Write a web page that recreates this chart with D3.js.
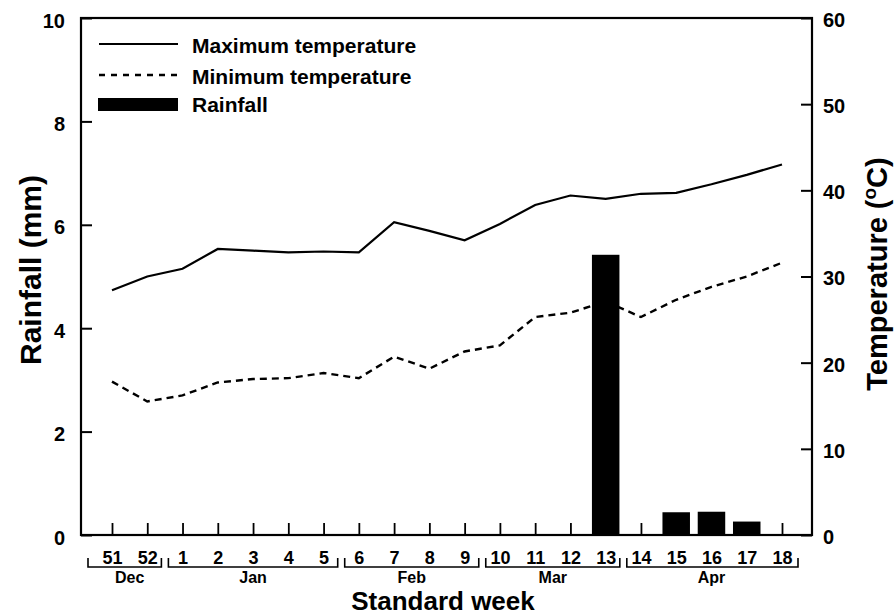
<!DOCTYPE html>
<html>
<head>
<meta charset="utf-8">
<script src="https://cdnjs.cloudflare.com/ajax/libs/d3/7.8.5/d3.min.js"></script>
<style>
  body { margin: 0; background: #fff; }
  svg text { font-family: "Liberation Sans", Arial, Helvetica, sans-serif; font-weight: bold; fill: #000; }
</style>
</head>
<body>
<div id="chart"></div>
<script>
// standard weeks, Dec 51 .. Apr 18
var weeks = ["51", "52", "1", "2", "3", "4", "5", "6", "7", "8", "9", "10", "11", "12", "13", "14", "15", "16", "17", "18"];
var maxTemp = [28.4, 30.0, 30.9, 33.2, 33.0, 32.8, 32.9, 32.8, 36.3, 35.3, 34.2, 36.1, 38.3, 39.4, 39.0, 39.6, 39.7, 40.7, 41.8, 43.0];
var minTemp = [17.8, 15.5, 16.2, 17.7, 18.1, 18.2, 18.8, 18.2, 20.7, 19.3, 21.3, 22.0, 25.3, 25.8, 27.1, 25.3, 27.3, 28.8, 30.0, 31.6];
var rainfall = [0, 0, 0, 0, 0, 0, 0, 0, 0, 0, 0, 0, 0, 0, 5.42, 0, 0.44, 0.45, 0.26, 0];
var months = [
    { name: "Dec", from: "51", to: "52" },
    { name: "Jan", from: "1", to: "5" },
    { name: "Feb", from: "6", to: "9" },
    { name: "Mar", from: "10", to: "13" },
    { name: "Apr", from: "14", to: "18" }
];
var rainTicks = [0, 2, 4, 6, 8, 10];
var tempTicks = [0, 10, 20, 30, 40, 50, 60];

var width = 894, height = 615;
var plotL = 81, plotR = 812, plotT = 18, plotB = 535;

var svg = d3.select("#chart").append("svg")
    .attr("width", width)
    .attr("height", height);

var x = d3.scalePoint()
    .domain(weeks)
    .range([112, 782]);
var step = x.step();

var yRain = d3.scaleLinear().domain([0, 10]).range([plotB, plotT]);
var yTemp = d3.scaleLinear().domain([0, 60]).range([plotB, plotT]);

// rainfall bars
var barW = 27.5;
svg.selectAll(".bar")
    .data(weeks.map(function (w, i) { return { week: w, value: rainfall[i] }; })
        .filter(function (d) { return d.value > 0; }))
    .enter()
    .append("rect")
    .attr("class", "bar")
    .attr("x", function (d) { return x(d.week) - barW / 2; })
    .attr("y", function (d) { return yRain(d.value); })
    .attr("width", barW)
    .attr("height", function (d) { return yRain(0) - yRain(d.value); })
    .attr("fill", "#000");

// temperature lines
var line = function (values) {
    return d3.line()
        .x(function (d, i) { return x(weeks[i]); })
        .y(function (d) { return yTemp(d); })(values);
};

svg.append("path")
    .attr("d", line(maxTemp))
    .attr("fill", "none")
    .attr("stroke", "#000")
    .attr("stroke-width", 2.2);

svg.append("path")
    .attr("d", line(minTemp))
    .attr("fill", "none")
    .attr("stroke", "#000")
    .attr("stroke-width", 2.4)
    .attr("stroke-dasharray", "7,5");

// frame
svg.append("rect")
    .attr("x", plotL)
    .attr("y", plotT)
    .attr("width", plotR - plotL)
    .attr("height", plotB - plotT)
    .attr("fill", "none")
    .attr("stroke", "#000")
    .attr("stroke-width", 2.2);

// left axis (ticks point inward)
var leftAxis = svg.append("g")
    .attr("transform", "translate(" + plotL + ",0)")
    .call(d3.axisLeft(yRain).tickValues(rainTicks).tickSize(-11).tickPadding(16).tickFormat(d3.format("d")));
leftAxis.select(".domain").remove();
leftAxis.selectAll("line").attr("stroke-width", 2);
leftAxis.selectAll("text").attr("font-size", 20).attr("dy", "0.45em")
    .style("font-family", "Liberation Sans, Arial, sans-serif").style("font-weight", "bold");

// right axis
var rightAxis = svg.append("g")
    .attr("transform", "translate(" + plotR + ",0)")
    .call(d3.axisRight(yTemp).tickValues(tempTicks).tickSize(-11).tickPadding(11).tickFormat(d3.format("d")));
rightAxis.select(".domain").remove();
rightAxis.selectAll("line").attr("stroke-width", 2);
rightAxis.selectAll("text").attr("font-size", 20).attr("dy", "0.42em")
    .style("font-family", "Liberation Sans, Arial, sans-serif").style("font-weight", "bold");

// bottom axis: ticks up into the plot, week numbers below
var bottomAxis = svg.append("g")
    .attr("transform", "translate(0," + plotB + ")")
    .call(d3.axisBottom(x).tickSize(-12).tickPadding(29));
bottomAxis.select(".domain").remove();
bottomAxis.selectAll("line").attr("stroke-width", 1.8);
bottomAxis.selectAll("text").attr("font-size", 18).attr("dy", "0")
    .style("font-family", "Liberation Sans, Arial, sans-serif").style("font-weight", "bold");

// month brackets
var brY = 567, brTop = 558;
months.forEach(function (m, i) {
    var x0 = i === 0 ? x(m.from) - 24 : x(m.from) - step / 2 + 3.5;
    var x1 = i === months.length - 1 ? x(m.to) + 16 : x(m.to) + step / 2 - 3.5;
    svg.append("path")
        .attr("d", "M" + x0 + "," + brTop + "V" + brY + "H" + x1 + "V" + brTop)
        .attr("fill", "none")
        .attr("stroke", "#000")
        .attr("stroke-width", 1.6);
    svg.append("text")
        .attr("x", (x(m.from) + x(m.to)) / 2)
        .attr("y", 583)
        .attr("text-anchor", "middle")
        .attr("font-size", 16)
        .text(m.name);
});

// axis titles
svg.append("text")
    .attr("x", 443)
    .attr("y", 610)
    .attr("text-anchor", "middle")
    .attr("font-size", 26)
    .text("Standard week");

svg.append("text")
    .attr("transform", "translate(41,270) rotate(-90)")
    .attr("text-anchor", "middle")
    .attr("font-size", 30)
    .text("Rainfall (mm)");

var tTitle = svg.append("text")
    .attr("transform", "translate(887,274) rotate(-90)")
    .attr("text-anchor", "middle")
    .attr("font-size", 29);
tTitle.append("tspan").text("Temperature (");
tTitle.append("tspan").attr("font-size", 19).attr("dy", -11).text("o");
tTitle.append("tspan").attr("dy", 11).text("C)");

// legend
var legend = svg.append("g");
legend.append("line")
    .attr("x1", 99).attr("x2", 178).attr("y1", 44).attr("y2", 44)
    .attr("stroke", "#000").attr("stroke-width", 2);
legend.append("line")
    .attr("x1", 99).attr("x2", 178).attr("y1", 75).attr("y2", 75)
    .attr("stroke", "#000").attr("stroke-width", 2.4).attr("stroke-dasharray", "6,6");
legend.append("rect")
    .attr("x", 98).attr("y", 98).attr("width", 80).attr("height", 13)
    .attr("fill", "#000");
var legendText = ["Maximum temperature", "Minimum temperature", "Rainfall"];
var legendY = [53, 84, 112];
legendText.forEach(function (t, i) {
    legend.append("text")
        .attr("x", 192)
        .attr("y", legendY[i])
        .attr("font-size", 21)
        .text(t);
});
</script>
</body>
</html>
